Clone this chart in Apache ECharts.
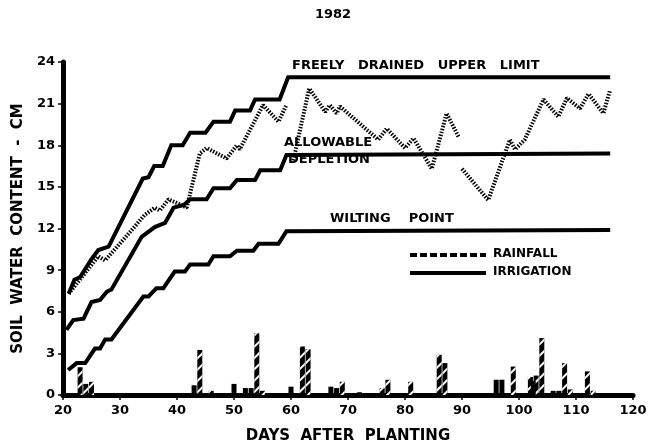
<!DOCTYPE html>
<html>
<head>
<meta charset="utf-8">
<script src="https://cdn.jsdelivr.net/npm/echarts@6/dist/echarts.min.js"></script>
<style>
  html, body { margin: 0; padding: 0; background: #fff; }
  #chart { width: 666px; height: 444px; }
</style>
</head>
<body>
<div id="chart"></div>
<script>
// soil water limits, [day, cm]
var upperLimit = [[21, 7.3], [22, 8.3], [23, 8.5], [25, 9.8], [26.2, 10.45], [28, 10.7], [34, 15.6], [35, 15.7],
  [36, 16.5], [37.5, 16.5], [39, 18.0], [41, 18.0], [42.3, 18.9], [45, 18.9], [46.4, 19.7], [49.3, 19.7],
  [50.2, 20.5], [52.8, 20.5], [53.7, 21.3], [58, 21.3], [59.5, 22.9], [116, 22.9]];
var allowable = [[20.6, 4.7], [21.8, 5.4], [23.6, 5.5], [25, 6.7], [26.5, 6.85], [27.7, 7.45], [28.5, 7.6],
  [33.8, 11.4], [36.1, 12.1], [37.9, 12.4], [39.4, 13.5], [41.2, 13.7], [42.3, 14.1], [45.2, 14.1],
  [46.4, 14.9], [49.3, 14.9], [50.5, 15.5], [53.7, 15.5], [54.6, 16.2], [58.1, 16.2], [59.2, 17.3], [116, 17.4]];
var wilting = [[20.9, 1.8], [22.4, 2.3], [23.9, 2.3], [25.6, 3.35], [26.5, 3.35], [27.4, 4.0], [28.5, 4.0],
  [34.1, 7.1], [35, 7.1], [36.4, 7.7], [37.6, 7.7], [39.6, 8.9], [41.4, 8.9], [42.3, 9.4], [45.5, 9.4],
  [46.4, 10.0], [49.3, 10.0], [50.5, 10.4], [53.4, 10.4], [54.3, 10.9], [57.8, 10.9], [59.2, 11.8], [116, 11.9]];
// measured soil water (dotted), null = gap in record
var measured = [[21, 7.3], [26.2, 10.0], [27.4, 9.7], [34.4, 13.0], [36.1, 13.5], [37, 13.3], [38.5, 14.1],
  [40.2, 13.8], [41.7, 13.5], [44, 17.4], [45.2, 17.8], [48.7, 17.05], [50.5, 18.0], [51, 17.7], [55.1, 20.9],
  [57.8, 19.7], [59.2, 20.9], null, [60.4, 16.9], [63.2, 22.1], [66, 20.4], [66.8, 20.9], [68, 20.3],
  [68.6, 20.8], [75.3, 18.4], [76.8, 19.2], [80, 17.8], [81.5, 18.5], [84.7, 16.3], [87.3, 20.3], [89.4, 18.6],
  null, [90, 16.3], [94.6, 14.05], [98.4, 18.4], [99.3, 17.7], [101, 18.4], [104.3, 21.3], [106.9, 20.05],
  [108.4, 21.4], [110.7, 20.65], [112.2, 21.7], [114.8, 20.3], [116, 22.0]];
var rainfall = [[23, 2.0], [24, 0.8], [25, 0.95], [44, 3.25], [46, 0.3], [54, 4.45], [55, 0.3], [62, 3.5],
  [63, 3.3], [69, 0.95], [72, 0.2], [76, 0.5], [77, 1.1], [81, 0.95], [86, 2.9], [87, 2.3], [99, 2.05],
  [102, 1.3], [103, 1.4], [104, 4.1], [108, 2.3], [109, 0.4], [112, 1.7], [113, 0.3]];
var irrigation = [[43, 0.7], [50, 0.8], [52, 0.5], [53, 0.5], [60, 0.6], [67, 0.6], [68, 0.5], [96, 1.1],
  [97, 1.1], [102.5, 1.0], [106, 0.3], [107, 0.3]];
var xTicks = [20, 30, 40, 50, 60, 70, 80, 90, 100, 110, 120];
var yTicks = [0, 3, 6, 9, 12, 15, 18, 21, 24];

var font = '"DejaVu Sans", sans-serif';
var chart = echarts.init(document.getElementById('chart'));

function limitLine(data) {
  return {
    type: 'line', data: data, symbol: 'none', z: 3,
    lineStyle: { color: '#000', width: 4, join: 'miter' }
  };
}

function label(text, x, y, size) {
  return {
    type: 'text', left: x, top: y,
    style: { text: text, fontFamily: font, fontWeight: 'bold', fontSize: size, fill: '#000' }
  };
}

var option = {
  animation: false,
  title: {
    text: '1982', left: 'center', top: 3,
    textStyle: { fontFamily: font, fontWeight: 'bold', fontSize: 13, color: '#000' }
  },
  grid: { left: 63, right: 33, top: 62, bottom: 49, outerBoundsMode: 'none' },
  xAxis: {
    type: 'value', min: xTicks[0], max: xTicks[xTicks.length - 1], interval: 10,
    name: 'DAYS  AFTER  PLANTING', nameLocation: 'middle', nameGap: 34,
    nameTextStyle: { fontFamily: font, fontWeight: 'bold', fontSize: 15, color: '#000' },
    axisLine: { lineStyle: { color: '#000', width: 5 } },
    axisTick: { length: 5, lineStyle: { color: '#000', width: 1.5 } },
    axisLabel: { fontFamily: font, fontWeight: 'bold', fontSize: 13, color: '#000', margin: 9 },
    splitLine: { show: false }
  },
  yAxis: {
    type: 'value', min: yTicks[0], max: yTicks[yTicks.length - 1], interval: 3,
    name: 'SOIL  WATER  CONTENT  -  CM', nameLocation: 'middle', nameGap: 35,
    nameTextStyle: { fontFamily: font, fontWeight: 'bold', fontSize: 15, color: '#000' },
    axisLine: { show: true, lineStyle: { color: '#000', width: 5 } },
    axisTick: { show: true, length: 5, lineStyle: { color: '#000', width: 1.5 } },
    axisLabel: { fontFamily: font, fontWeight: 'bold', fontSize: 13, color: '#000', margin: 8 },
    splitLine: { show: false }
  },
  graphic: [
    label('FREELY   DRAINED   UPPER   LIMIT', 292, 59, 13),
    label('ALLOWABLE', 284, 136, 13),
    label('DEPLETION', 288, 153, 13),
    label('WILTING    POINT', 330, 212, 13),
    { type: 'line', shape: { x1: 410, y1: 255, x2: 486, y2: 255 }, style: { stroke: '#000', lineWidth: 4, lineDash: [7, 3] } },
    label('RAINFALL', 493, 248, 12),
    { type: 'line', shape: { x1: 410, y1: 273, x2: 486, y2: 273 }, style: { stroke: '#000', lineWidth: 4 } },
    label('IRRIGATION', 493, 266, 12)
  ],
  series: [
    limitLine(upperLimit),
    limitLine(allowable),
    limitLine(wilting),
    {
      type: 'line', data: measured, symbol: 'none', connectNulls: false, z: 4,
      lineStyle: { color: '#000', width: 4, type: [1.5, 1.5] }
    },
    {
      type: 'bar', data: rainfall, barWidth: 5, barGap: '-100%', z: 2,
      itemStyle: {
        color: '#000',
        decal: { symbol: 'rect', color: '#fff', dashArrayX: [1, 0], dashArrayY: [2, 6], rotation: -Math.PI / 4 }
      }
    },
    {
      type: 'bar', data: irrigation, barWidth: 5, barGap: '-100%', z: 2,
      itemStyle: { color: '#000' }
    }
  ]
};
chart.setOption(option);
</script>
</body>
</html>
